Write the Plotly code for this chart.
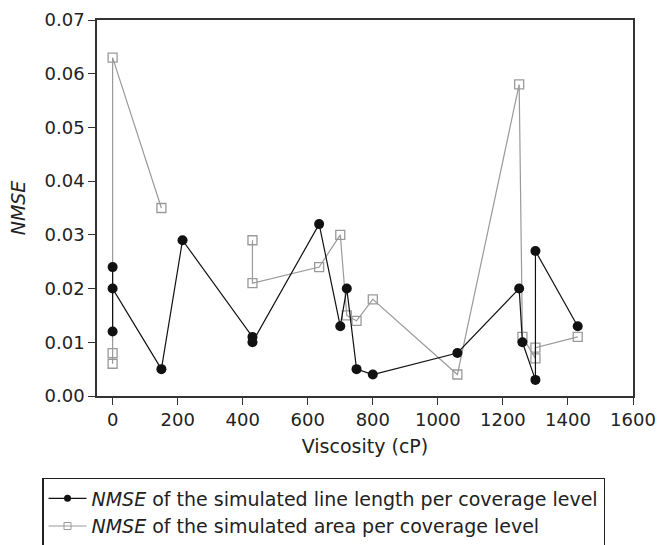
import plotly.graph_objects as go

# Viscosity (cP) and NMSE values
line_visc = [0, 0, 0, 150, 215, 430, 430, 635, 700, 720, 750, 800, 1060, 1250, 1260, 1300, 1300, 1430]
line_nmse = [0.012, 0.024, 0.020, 0.005, 0.029, 0.011, 0.010, 0.032, 0.013, 0.020, 0.005, 0.004, 0.008, 0.020, 0.010, 0.003, 0.027, 0.013]

area_visc = [0, 0, 0, 150, 215, 430, 430, 635, 700, 720, 750, 800, 1060, 1250, 1260, 1300, 1300, 1430]
area_nmse = [0.008, 0.006, 0.063, 0.035, None, 0.029, 0.021, 0.024, 0.030, 0.015, 0.014, 0.018, 0.004, 0.058, 0.011, 0.007, 0.009, 0.011]

x_ticks = [0, 200, 400, 600, 800, 1000, 1200, 1400, 1600]
y_ticks = [0.00, 0.01, 0.02, 0.03, 0.04, 0.05, 0.06, 0.07]

name_line = "<i>NMSE</i> of the simulated line length per coverage level"
name_area = "<i>NMSE</i> of the simulated area per coverage level"

BLACK = "#111111"
GRAY = "#9a9a9a"
FONT = "DejaVu Sans"
TXT = "#222222"

fig = go.Figure()
fig.add_trace(go.Scatter(
    x=area_visc, y=area_nmse, mode="lines+markers", connectgaps=False,
    line=dict(color=GRAY, width=1.2),
    marker=dict(symbol="square-open", size=9, color=GRAY, line=dict(width=1.3, color=GRAY)),
    showlegend=False,
))
fig.add_trace(go.Scatter(
    x=line_visc, y=line_nmse, mode="lines+markers",
    line=dict(color=BLACK, width=1.2),
    marker=dict(symbol="circle", size=10, color=BLACK),
    showlegend=False,
))
# legend-only entries with smaller symbols
fig.add_trace(go.Scatter(
    x=[None], y=[None], mode="lines+markers", name=name_line,
    line=dict(color=BLACK, width=1.2),
    marker=dict(symbol="circle", size=7, color=BLACK),
))
fig.add_trace(go.Scatter(
    x=[None], y=[None], mode="lines+markers", name=name_area,
    line=dict(color=GRAY, width=1.2),
    marker=dict(symbol="square-open", size=7, color=GRAY, line=dict(width=1, color=GRAY)),
))

axis_common = dict(
    showgrid=False, zeroline=False, showline=True, linecolor="#333333", linewidth=1.5,
    mirror=True, ticks="outside", ticklen=7, tickwidth=1.2, tickcolor="#333333",
    tickfont=dict(family=FONT, size=18, color=TXT),
)

fig.update_xaxes(
    range=[-48, 1600], tickvals=x_ticks, ticktext=[str(v) for v in x_ticks],
    title=dict(text="Viscosity (cP)", font=dict(family=FONT, size=19, color=TXT), standoff=10),
    **axis_common,
)
fig.update_yaxes(
    range=[0, 0.07], tickvals=y_ticks, ticktext=[f"{v:.2f}" for v in y_ticks],
    title=dict(text="<i>NMSE</i>", font=dict(family=FONT, size=19, color=TXT), standoff=14),
    **axis_common,
)

fig.update_layout(
    width=659, height=545,
    margin=dict(l=97, r=26, t=20, b=149, autoexpand=False),
    plot_bgcolor="white", paper_bgcolor="white",
    font=dict(family=FONT, size=18, color=TXT),
    legend=dict(
        x=-0.1026, y=-0.218, xanchor="left", yanchor="top",
        bordercolor="#222222", borderwidth=1.5, bgcolor="white",
        font=dict(family=FONT, size=19, color=TXT),
        tracegroupgap=0, itemwidth=38,
    ),
)

fig.write_html(
    "out.html",
    config={"displayModeBar": False},
    post_script="document.body.style.margin='0';document.body.style.padding='0';document.body.style.overflow='hidden';",
)
